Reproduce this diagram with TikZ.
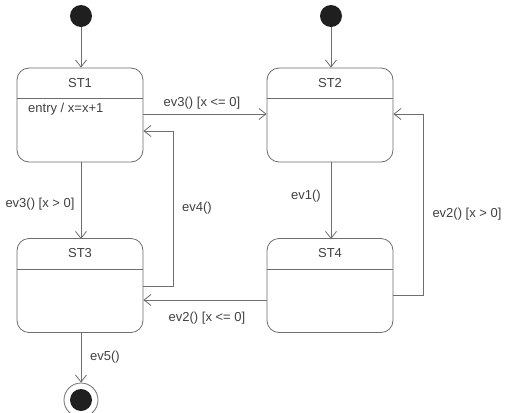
\documentclass[tikz,border=0pt]{standalone}
\usepackage{fontspec}
\setmainfont{Liberation Sans}
\usetikzlibrary{arrows.meta}
\definecolor{linegray}{HTML}{6E6E6E}
\definecolor{textgray}{HTML}{404040}
\begin{document}
\begin{tikzpicture}[x=1pt,y=-1pt,
  line/.style={draw=linegray, line width=0.8pt},
  statebox/.style={draw=linegray, line width=0.8pt, rounded corners=12pt,
    minimum width=126pt, minimum height=94pt, inner sep=0pt},
  arr/.style={line, -{Straight Barb[length=7pt,width=11pt]}},
  lbl/.style={font=\fontsize{13}{15}\selectfont, text=textgray, inner sep=1pt},
  initdot/.style={circle, fill=black!88, minimum size=22pt, inner sep=0pt},
]
\useasboundingbox[fill=white] (0,0) rectangle (507,413);

% states
\node[statebox] (st1) at (80,115) {};
\node[statebox] (st2) at (330,115) {};
\node[statebox] (st3) at (80,285.5) {};
\node[statebox] (st4) at (330,285.5) {};

\foreach \s/\t in {st1/ST1, st2/ST2, st3/ST3, st4/ST4}{
  \node[lbl] (\s title) at ([yshift=-15pt]\s.north) {\t};
  \draw[line] ([yshift=-31pt]\s.north west) -- ([yshift=-31pt]\s.north east);
}
\node[lbl, anchor=west] (entry1) at (27,109) {entry / x=x+1};

% initial and final states
\node[initdot] (i1) at (81,16) {};
\node[initdot] (i2) at (331,16) {};
\node[circle, draw=linegray, line width=0.8pt, minimum size=34pt, inner sep=0pt] (fin) at (81,400) {};
\node[initdot] (findot) at (fin.center) {};

% transitions
\draw[arr] (i1) -- (i1 |- st1.north);
\draw[arr] (i2) -- (i2 |- st2.north);

\draw[arr] (st1.east |- 0,114) -- (st2.west |- 0,114);
\node[lbl] (l1) at (202,103) {ev3() [x <= 0]};

\draw[arr] (81,162) -- (81,239);
\node[lbl] (l2) at (40,204) {ev3() [x > 0]};

\coordinate (c4a) at (173,286);
\coordinate (c4b) at (173,131);
\draw[arr] (st3.east |- c4a) -- (c4a) -- (c4b) -- (st1.east |- c4b);
\node[lbl] (l3) at (197,208) {ev4()};

\draw[arr] (331,162) -- (331,239);
\node[lbl] (l4) at (306,196) {ev1()};

\coordinate (c2a) at (423,295);
\coordinate (c2b) at (423,114);
\draw[arr] (st4.east |- c2a) -- (c2a) -- (c2b) -- (st2.east |- c2b);
\node[lbl] (l5) at (467,214) {ev2() [x > 0]};

\draw[arr] (st4.west |- 0,300) -- (st3.east |- 0,300);
\node[lbl] (l6) at (207,318.5) {ev2() [x <= 0]};

\draw[arr] (st3.south -| fin) -- (fin);
\node[lbl] (l7) at (105,357) {ev5()};
\end{tikzpicture}
\end{document}
